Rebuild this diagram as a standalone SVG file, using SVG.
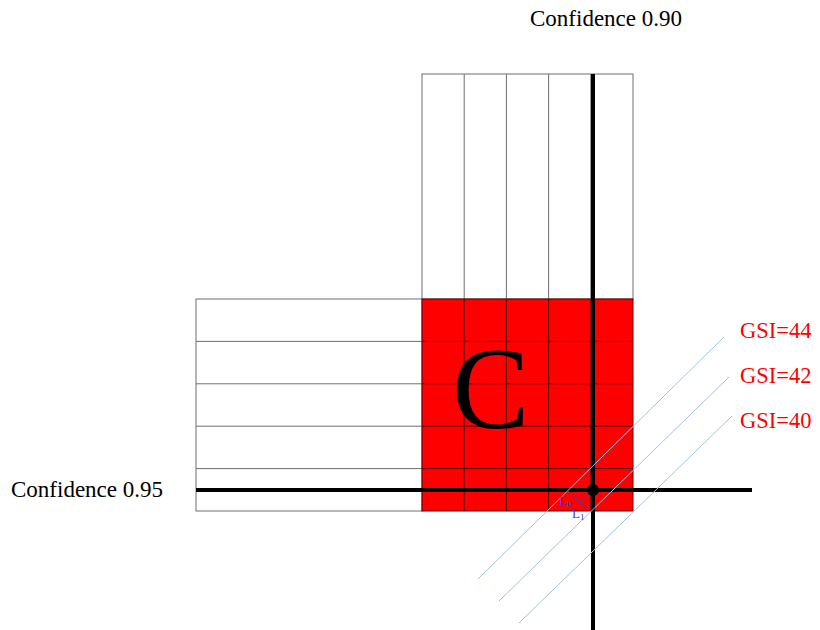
<svg xmlns="http://www.w3.org/2000/svg" width="820" height="630" viewBox="0 0 820 630">
<style>
.cell{fill:#ffffff;stroke:#6e6e6e;stroke-width:1}
.gridw{stroke:#6e6e6e;stroke-width:1;fill:none}
.gridr{stroke:#5a0000;stroke-width:1;fill:none}
.axis{stroke:#000000;stroke-width:4;fill:none}
.gsi{stroke:#9dc3e6;stroke-width:1;fill:none}
.ln{stroke:#3b3bd6;stroke-width:1;fill:none}
.t{font-family:"Liberation Serif","Times New Roman",serif;fill:#000}
.red{fill:#ff0000}
.lab{font-family:"Liberation Serif","Times New Roman",serif;fill:#3b3bd6}
</style>
<rect width="820" height="630" fill="#ffffff"/>
<g id="top-block">
<rect x="422" y="74" width="211" height="225" class="cell"/>
<path class="gridw" d="M464.2 74V299M506.4 74V299M548.6 74V299M590.8 74V299"/>
</g>
<g id="left-block">
<rect x="196" y="299" width="226" height="212" class="cell"/>
<path class="gridw" d="M196 341.4H422M196 383.8H422M196 426.2H422M196 468.6H422"/>
</g>
<g id="region-C">
<rect x="422" y="299" width="211" height="212" fill="#ff0000" stroke="#5a0000" stroke-width="1"/>
<path class="gridr" d="M464.2 299V511M506.4 299V511M548.6 299V511M590.8 299V511M422 341.4H633M422 383.8H633M422 426.2H633M422 468.6H633"/>
<text class="t" x="452" y="428" font-size="116">C</text>
</g>
<g id="connectors">
<line class="axis" x1="196" y1="490" x2="752" y2="490"/>
<line class="axis" x1="593" y1="74" x2="593" y2="630"/>
<line class="gsi" x1="478" y1="579" x2="724" y2="337"/>
<line class="gsi" x1="499" y1="601" x2="729" y2="377"/>
<line class="gsi" x1="519" y1="623" x2="732" y2="416"/>
<line class="ln" x1="568" y1="491" x2="590" y2="511"/>
<line class="ln" x1="593" y1="490" x2="580" y2="502"/>
</g>
<g id="optimum">
<circle cx="593" cy="490" r="6" fill="#000"/>
</g>
<g id="labels">
<text class="t" x="530" y="26" font-size="23">Confidence 0.90</text>
<text class="t" x="11" y="497" font-size="23">Confidence 0.95</text>
<text class="t red" x="740" y="338" font-size="22.5">GSI=44</text>
<text class="t red" x="740" y="383" font-size="22.5">GSI=42</text>
<text class="t red" x="740" y="428" font-size="22.5">GSI=40</text>
<text class="lab" x="559" y="505" font-size="13">L<tspan font-size="9" dy="2">0</tspan></text>
<text class="lab" x="572" y="518" font-size="13">L<tspan font-size="9" dy="2">1</tspan></text>
</g>
</svg>
